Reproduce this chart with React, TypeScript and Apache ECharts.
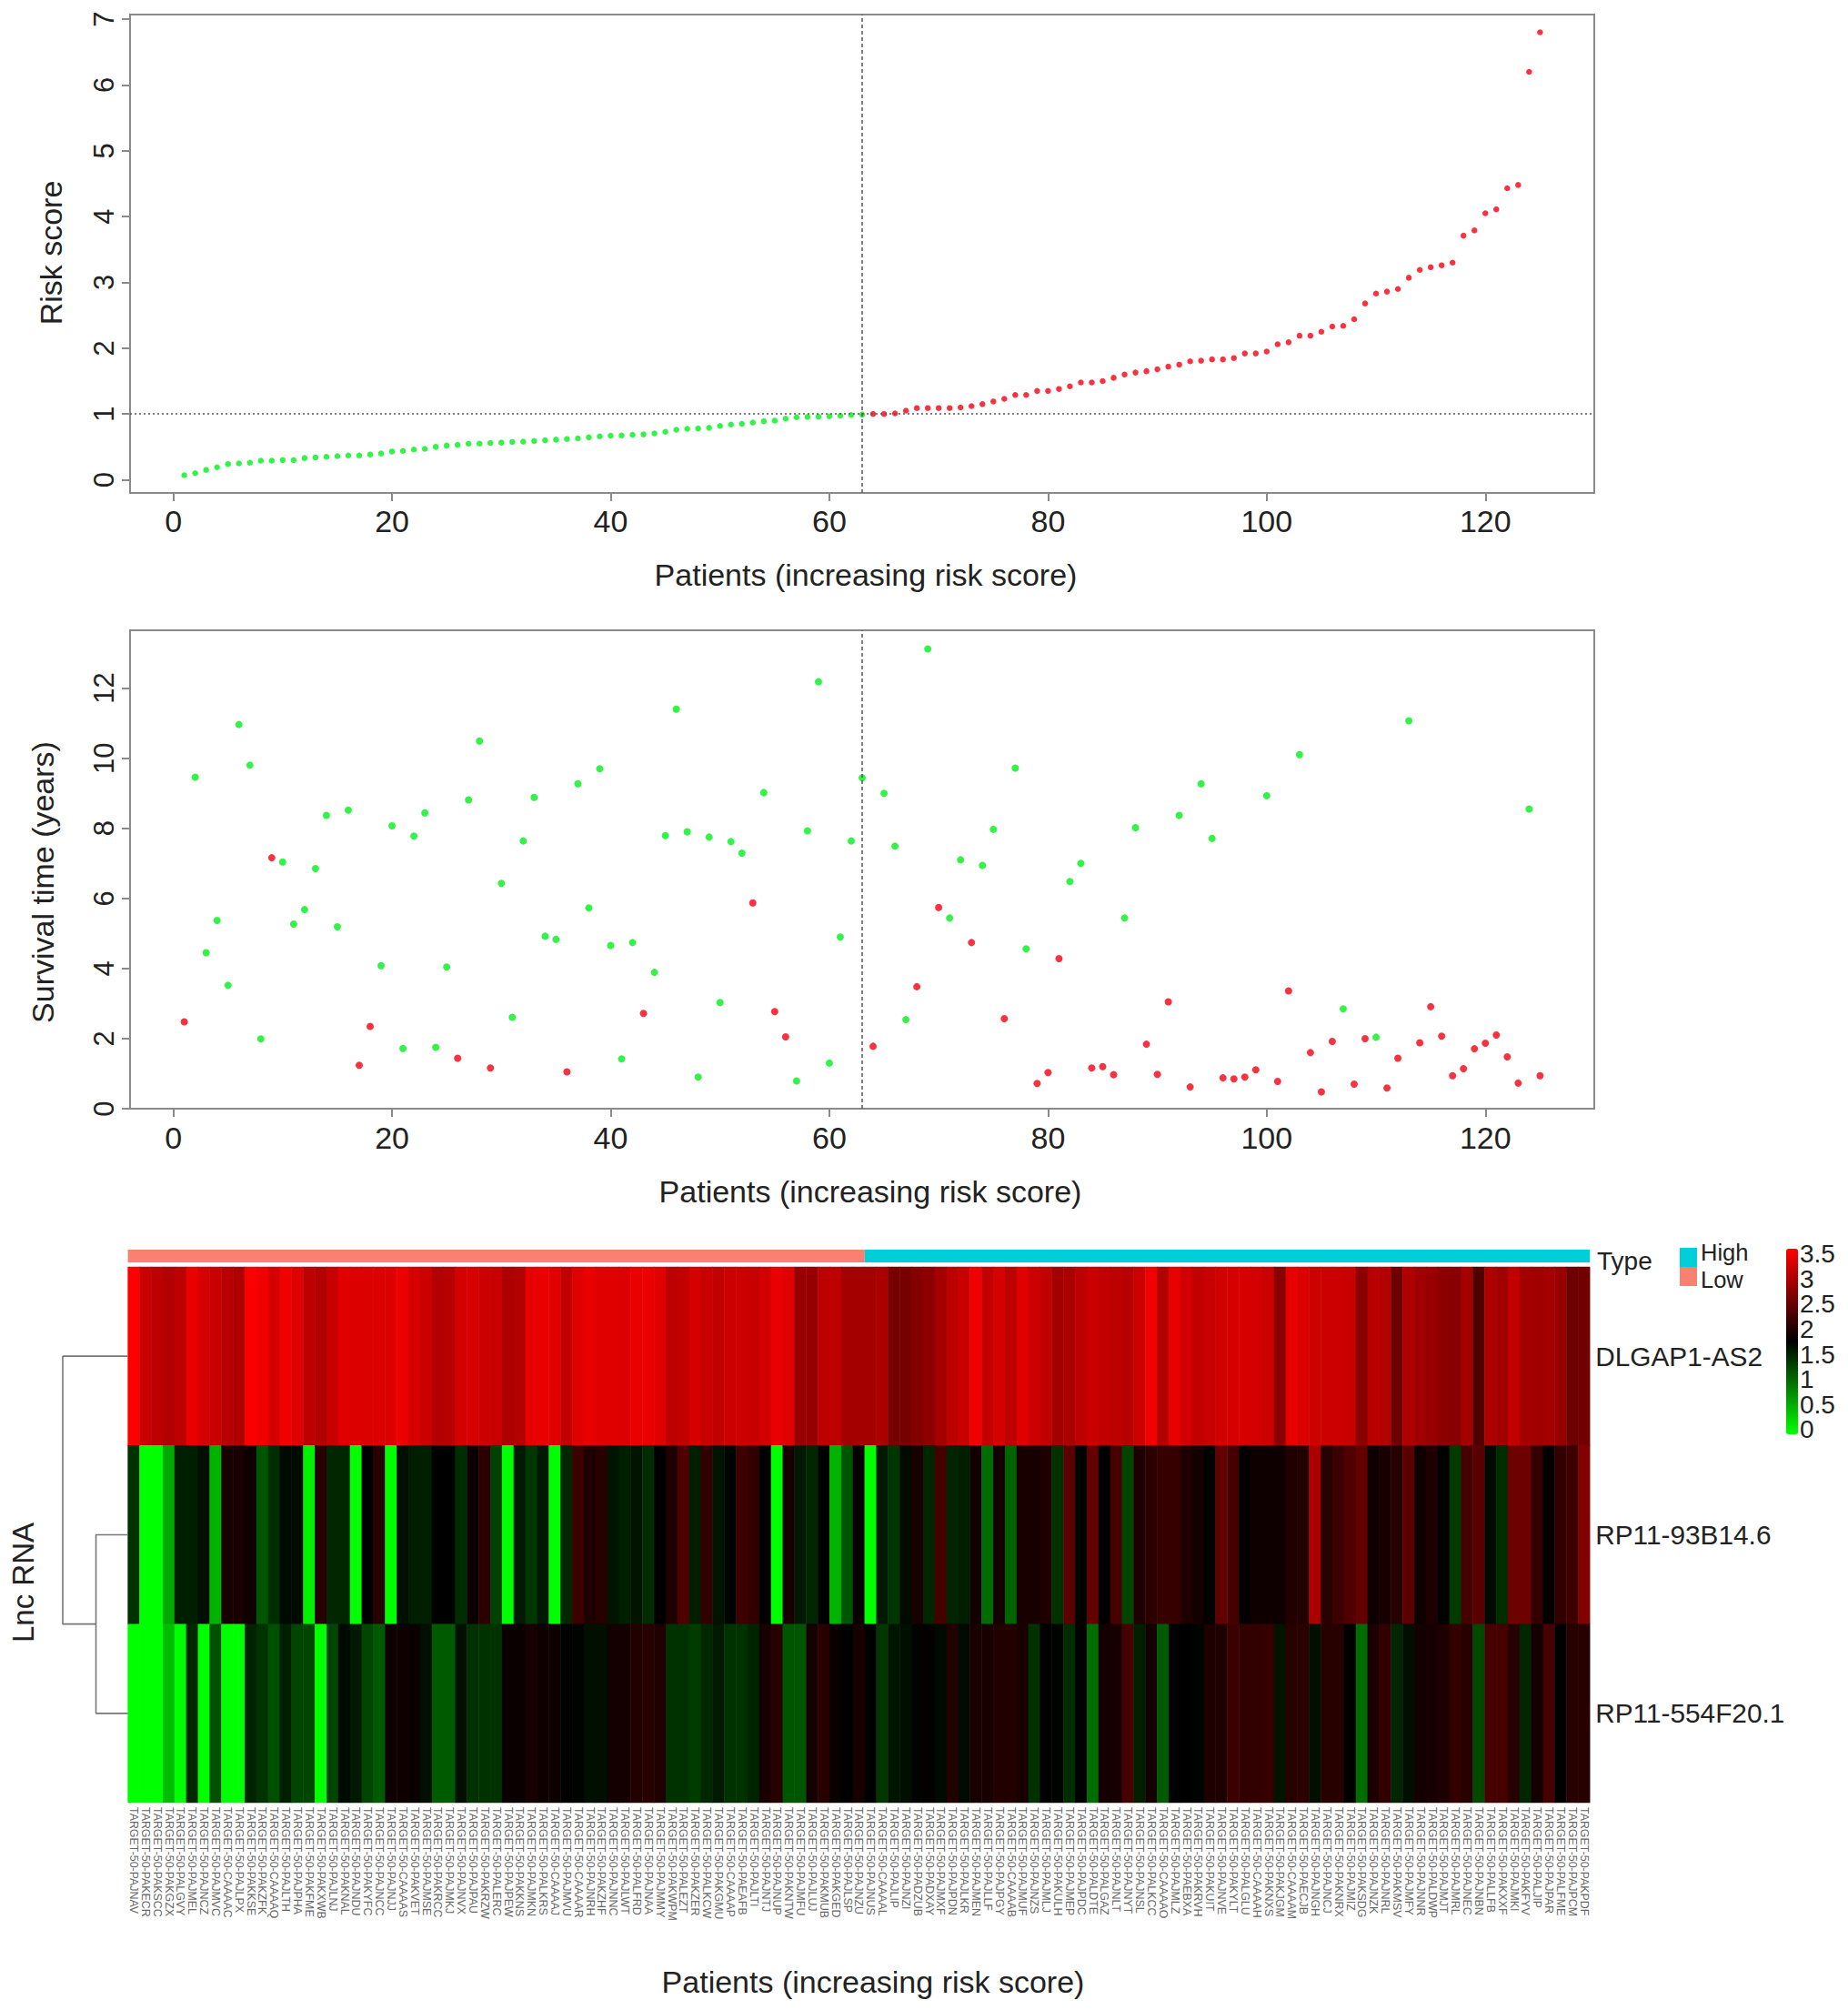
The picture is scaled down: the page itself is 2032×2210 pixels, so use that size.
import React, { useEffect, useRef } from "react";
import * as echarts from "echarts";

const riskScores = [
  0.07,0.1,0.15,0.19,0.24,0.25,0.26,0.29,0.29,0.3,0.3,0.33,0.34,0.35,0.36,0.37,0.37,0.385,0.4,0.43,
  0.44,0.46,0.47,0.5,0.52,0.53,0.55,0.55,0.56,0.565,0.575,0.58,0.59,0.6,0.61,0.62,0.63,0.645,0.66,0.67,
  0.675,0.685,0.69,0.705,0.73,0.76,0.775,0.78,0.79,0.82,0.84,0.85,0.87,0.89,0.9,0.93,0.95,0.955,0.96,0.965,
  0.975,0.985,0.99,1.0,1.0,1.01,1.05,1.09,1.09,1.09,1.09,1.1,1.12,1.15,1.19,1.23,1.29,1.29,1.35,1.35,
  1.38,1.42,1.48,1.48,1.5,1.55,1.6,1.63,1.65,1.68,1.72,1.75,1.8,1.81,1.83,1.83,1.85,1.92,1.92,1.95,
  2.06,2.09,2.19,2.19,2.25,2.33,2.34,2.44,2.68,2.83,2.86,2.9,3.07,3.19,3.23,3.26,3.3,3.71,3.79,4.05,
  4.11,4.43,4.48,6.2,6.8,
];
const survivalYears = [
  2.48,9.46,4.45,5.37,3.52,10.96,9.8,1.99,7.16,7.04,5.27,5.68,6.85,8.37,5.19,8.52,1.24,2.35,4.08,8.07,
  1.72,7.78,8.44,1.75,4.04,1.44,8.81,10.49,1.16,6.43,2.61,7.64,8.88,4.92,4.83,1.05,9.27,5.73,9.7,4.66,
  1.42,4.74,2.72,3.89,7.79,11.4,7.9,0.9,7.75,3.03,7.62,7.29,5.87,9.02,2.77,2.05,0.79,7.93,12.18,1.3,
  4.9,7.64,9.44,1.78,9.0,7.49,2.54,3.48,13.12,5.74,5.44,7.1,4.74,6.94,7.97,2.57,9.72,4.56,0.72,1.03,
  4.28,6.48,7.0,1.16,1.2,0.97,5.44,8.02,1.84,0.98,3.05,8.37,0.62,9.27,7.71,0.88,0.85,0.9,1.11,8.93,
  0.78,3.36,10.1,1.6,0.48,1.92,2.85,0.7,2.0,2.04,0.59,1.44,11.07,1.88,2.91,2.07,0.94,1.14,1.71,1.87,
  2.1,1.48,0.73,8.55,0.94,
];
// 1 = dead (red), 0 = alive (green)
const deadFlags = [
  1,0,0,0,0,0,0,0,1,0,0,0,0,0,0,0,1,1,0,0,
  0,0,0,0,0,1,0,0,1,0,0,0,0,0,0,1,0,0,0,0,
  0,0,1,0,0,0,0,0,0,0,0,0,1,0,1,1,0,0,0,0,
  0,0,0,1,0,0,0,1,0,1,0,0,1,0,0,1,0,0,1,1,
  1,0,0,1,1,1,0,0,1,1,1,0,1,0,0,1,1,1,1,0,
  1,1,0,1,1,1,0,1,1,0,1,1,0,1,1,1,1,1,1,1,
  1,1,1,0,1,
];
const patientIds = [
  "PAJNAV","PAKECR","PAKSCC","PAKGZX","PALGVY","PAJMEL","PAJNCZ","PAJMVC","CAAAAC","PAJLPX","PAKKSE","PAKZFK","CAAAAQ",
  "PAJLTH","PAJPHA","PAKFME","PAKXWB","PAJLNJ","PAKNAL","PAJNDU","PAKYFC","PAJNCC","PAJNJJ","CAAAAS","PAKVET","PAJMSE",
  "PAKRCC","PAJMKJ","PAJNVX","PAJPAU","PAKRZW","PALERC","PAJPEW","PAKKNS","PAJMKN","PALKRS","CAAAAJ","PAJMVU","CAAAAR",
  "PAJNRH","PAKZHF","PAJNNC","PAJLWT","PALFRD","PAJNAA","PAJMMY","PAKWPM","PALEZT","PAKZER","PALKCW","PAKGMU","CAAAAP",
  "PAEAFB","PAJLTI","PAJNTJ","PAJNUP","PAKNTW","PAJMFU","PAJLUJ","PAKMUB","PAKGED","PAJLSP","PAJNZU","PAJNUS","CAAAAL",
  "PAJLIP","PAJNZI","PADZUB","PADXAY","PAJMXF","PAJPDN","PAJLKR","PAJMEN","PAJLLF","PAJPGY","CAAAAB","PAJMUF","PAJNZS",
  "PAJMLJ","PAKULH","PAJMEP","PAJPDC","PALDTE","PALGAZ","PAJNLT","PAJNYT","PAJNSL","PALKCC","CAAAAO","PAJMLZ","PAEBXA",
  "PAKRVH","PAKUIT","PAJNVE","PAKYLT","PALGLU","CAAAAH","PAKNXS","PAKJGM","CAAAAM","PAECJB","PAJNGH","PAJNCJ","PAKNRX",
  "PAJMIZ","PAKSDG","PAJNZK","PAJNRL","PAKMSV","PAJMFY","PAJNNR","PALDWP","PAJMJT","PAJMRL","PAJNEC","PAJNBN","PALLFB",
  "PAKXXF","PAJMKI","PAKFYV","PALJIP","PAJPAR","PALFME","PAJPCM","PAKPDF",
];
const lncRnas = ["DLGAP1-AS2", "RP11-93B14.6", "RP11-554F20.1"];
const dlgap1 = [
  3.5,3.12,3.05,2.98,3.05,3.36,3.22,3.12,3.02,2.95,3.47,3.4,3.22,3.4,3.29,3.05,2.98,3.12,3.29,3.26,3.26,3.26,3.26,3.36,3.22,
  3.16,2.98,3.02,3.22,3.22,3.16,3.12,2.95,2.98,3.33,3.36,3.29,3.09,3.29,3.36,3.29,3.29,3.26,3.36,3.36,3.29,3.05,3.09,3.22,3.12,
  3.09,3.16,3.16,3.12,3.19,3.36,3.29,2.78,2.78,3.05,3.05,2.88,2.88,2.88,2.92,2.57,2.57,2.64,
  2.71,2.88,3.05,3.12,3.4,3.09,3.22,3.05,3.29,3.16,3.09,2.88,2.92,3.05,3.12,3.09,3.05,3.02,3.16,3.4,2.98,3.33,3.19,3.09,3.12,
  3.19,3.22,3.22,3.19,3.16,2.68,3.33,3.26,3.16,3.16,3.16,3.12,2.68,3.02,2.98,2.5,2.95,2.85,2.78,2.71,2.68,2.88,2.3,2.95,2.85,
  3.09,2.88,2.85,2.88,2.78,2.5,2.54,
];
const rp93b = [
  1.41,0,0,0.58,1.54,1.54,1.65,0.52,1.92,1.92,1.85,1.17,1.44,1.68,1.68,0.1,2.02,1.48,1.48,0,1.75,2.02,0,1.65,1.54,
  1.54,1.75,1.75,1.44,1.82,2.06,1.3,0,1.58,1.37,1.58,0,1.48,2.16,1.96,2.02,1.61,1.54,1.61,1.44,1.75,1.96,2.3,1.54,2.09,
  1.61,1.72,2.16,2.09,1.75,0,1.92,1.58,1.48,1.75,0.52,1.17,1.82,0,1.58,1.37,1.68,1.92,
  1.48,2.23,1.51,1.54,1.89,1.0,1.89,1.06,1.92,1.92,1.96,1.41,2.37,1.72,2.44,1.75,2.23,1.27,1.96,2.06,2.13,2.13,1.96,1.89,1.72,
  2.44,2.23,1.78,1.85,1.85,1.85,1.99,1.99,2.92,2.02,2.16,2.3,2.44,1.85,1.92,2.02,2.37,1.85,1.96,1.75,1.34,2.23,2.37,1.68,1.44,
  2.5,2.5,2.09,1.78,2.09,2.16,2.64,
];
const rp554f = [
  0,0,0,0.45,0,1.48,0,1.2,0,0,1.51,1.41,1.2,1.54,1.27,1.27,0,1.27,1.68,1.58,1.27,1.13,1.85,1.85,1.82,
  1.65,1.13,1.13,1.65,1.41,1.41,1.41,1.82,1.82,1.92,1.85,1.85,1.75,1.72,1.65,1.65,1.89,1.89,1.99,2.02,1.96,1.41,1.41,1.34,1.48,
  1.58,1.41,1.41,1.51,1.92,2.02,1.17,1.17,1.89,2.02,1.82,1.75,1.92,1.75,1.37,1.61,1.65,1.72,
  1.78,1.68,1.99,1.68,1.92,1.92,1.99,1.99,1.92,1.41,1.75,1.72,1.44,1.75,1.0,1.89,1.92,2.23,1.54,1.89,1.13,1.72,1.75,1.72,1.96,
  1.96,2.16,2.09,2.09,2.13,1.61,2.02,2.06,1.65,2.02,2.02,1.75,1.0,1.96,2.09,1.48,1.65,1.89,1.92,1.96,2.09,2.02,1.24,2.23,2.23,
  2.02,1.48,1.89,2.23,1.75,2.02,2.02,
];
const expression = [dlgap1, rp93b, rp554f];
const lowRiskCount = 63;
const highRiskCount = 62;
const xTicks = [0, 20, 40, 60, 80, 100, 120];
const riskTicks = [0, 1, 2, 3, 4, 5, 6, 7];
const survivalTicks = [0, 2, 4, 6, 8, 10, 12];
const colorbarTicks = [
  { label: "3.5", y: 1378 }, { label: "3", y: 1406 }, { label: "2.5", y: 1433 }, { label: "2", y: 1461 },
  { label: "1.5", y: 1489 }, { label: "1", y: 1516 }, { label: "0.5", y: 1544 }, { label: "0", y: 1571 },
];
const dendrogramLinks = [
  [[0, 0.5], [1, 0.5], [1, 2], [0.49, 2]],
  [[0, 1.5], [0.49, 1.5], [0.49, 2.5], [0, 2.5]],
];

const FONT = '"Liberation Sans", Arial, Helvetica, sans-serif';
const GREEN = "#00f01c";
const RED = "#f50012";
const BOX = "#8a8a8a";
const TXT = "#222222";
const GUIDE = "#555555";
const LOW_COLOR = "#fa8072";
const HIGH_COLOR = "#00ced8";

function xAxisFor(gridIndex: number, margin: number) {
  return {
    type: "value", gridIndex, min: -3.96, max: 129.96,
    axisLine: { show: false, onZero: false },
    splitLine: { show: false },
    axisTick: { show: true, length: 9, customValues: xTicks, lineStyle: { color: BOX, width: 2 } },
    axisLabel: { customValues: xTicks, fontSize: 34, fontFamily: FONT, color: TXT, margin },
  };
}

function yAxisFor(gridIndex: number, min: number, max: number, ticks: number[]) {
  return {
    type: "value", gridIndex, min, max,
    axisLine: { show: false, onZero: false },
    splitLine: { show: false },
    axisTick: { show: true, length: 9, customValues: ticks, lineStyle: { color: BOX, width: 2 } },
    axisLabel: { customValues: ticks, fontSize: 31, fontFamily: FONT, color: TXT, rotate: 90, margin: 13 },
  };
}

function text(t: string, x: number, y: number, fontSize: number, extra: any = {}) {
  return {
    type: "text", x, y, rotation: extra.rotation || 0, silent: true,
    style: {
      text: t, fontSize, fontFamily: FONT, fill: TXT,
      textAlign: extra.align || "center", textVerticalAlign: "middle",
    },
  };
}

function buildOption() {
  const xs = riskScores.map((_, i) => i + 1);
  const heat: number[][] = [];
  expression.forEach((row, r) => row.forEach((v, c) => heat.push([c, r, v])));
  const fullIds = patientIds.map((p) => `TARGET-50-${p}`);
  const UP = Math.PI / 2;

  return {
    animation: false,
    backgroundColor: "#ffffff",
    textStyle: { fontFamily: FONT },
    grid: [
      { left: 143, top: 16, width: 1610, height: 526, show: true, borderColor: BOX, borderWidth: 2, containLabel: false },
      { left: 143, top: 693, width: 1610, height: 526, show: true, borderColor: BOX, borderWidth: 2, containLabel: false },
      { left: 140.6, top: 1393, width: 1607.6, height: 589, containLabel: false },
      { left: 140.6, top: 1374, width: 1607.6, height: 14, containLabel: false },
      { left: 69, top: 1393, width: 71.6, height: 589, containLabel: false },
    ],
    xAxis: [
      xAxisFor(0, 14),
      xAxisFor(1, 15),
      {
        type: "category", gridIndex: 2, data: fullIds, axisLine: { show: false }, axisTick: { show: false },
        axisLabel: { interval: 0, rotate: -90, fontSize: 12.4, fontFamily: FONT, color: "#666666", margin: 5 },
      },
      { type: "value", gridIndex: 3, min: 0, max: lowRiskCount + highRiskCount, show: false },
      { type: "value", gridIndex: 4, min: 0, max: 1, inverse: true, show: false },
    ],
    yAxis: [
      yAxisFor(0, -0.2, 7.07, riskTicks),
      yAxisFor(1, 0, 13.65, survivalTicks),
      {
        type: "category", gridIndex: 2, data: lncRnas, inverse: true, position: "right",
        axisLine: { show: false }, axisTick: { show: false },
        axisLabel: { fontSize: 29.8, fontFamily: FONT, color: TXT, margin: 6 },
      },
      { type: "category", gridIndex: 3, data: ["Type"], show: false },
      { type: "value", gridIndex: 4, min: 0, max: 3, inverse: true, show: false },
    ],
    visualMap: {
      show: true, type: "continuous", seriesIndex: 4, min: 0, max: 3.5, calculable: false,
      left: 1964, top: 1373, itemWidth: 13, itemHeight: 204, padding: 0, orient: "vertical",
      inRange: { color: ["#00ff00", "#000000", "#ff0000"] },
      hoverLink: false,
    },
    series: [
      {
        name: "Low risk", type: "scatter", xAxisIndex: 0, yAxisIndex: 0, symbolSize: 6.5, silent: true,
        itemStyle: { color: GREEN },
        data: xs.slice(0, lowRiskCount).map((x) => [x, riskScores[x - 1]]),
        markLine: {
          silent: true, symbol: "none", label: { show: false }, animation: false,
          data: [
            { xAxis: lowRiskCount, lineStyle: { type: [4, 3], color: GUIDE, width: 1.5 } },
            { yAxis: 1, lineStyle: { type: [2, 3], color: GUIDE, width: 1.5 } },
          ],
        },
      },
      {
        name: "High risk", type: "scatter", xAxisIndex: 0, yAxisIndex: 0, symbolSize: 6.5, silent: true,
        itemStyle: { color: RED },
        data: xs.slice(lowRiskCount).map((x) => [x, riskScores[x - 1]]),
      },
      {
        name: "Alive", type: "scatter", xAxisIndex: 1, yAxisIndex: 1, symbolSize: 8, silent: true,
        itemStyle: { color: GREEN },
        data: xs.filter((x) => !deadFlags[x - 1]).map((x) => [x, survivalYears[x - 1]]),
        markLine: {
          silent: true, symbol: "none", label: { show: false }, animation: false,
          data: [{ xAxis: lowRiskCount, lineStyle: { type: [4, 3], color: GUIDE, width: 1.5 } }],
        },
      },
      {
        name: "Dead", type: "scatter", xAxisIndex: 1, yAxisIndex: 1, symbolSize: 8, silent: true,
        itemStyle: { color: RED },
        data: xs.filter((x) => deadFlags[x - 1]).map((x) => [x, survivalYears[x - 1]]),
      },
      {
        name: "Expression", type: "heatmap", xAxisIndex: 2, yAxisIndex: 2, data: heat, silent: true,
        progressive: 0, itemStyle: { borderWidth: 0 },
      },
      {
        name: "Low", type: "bar", xAxisIndex: 3, yAxisIndex: 3, silent: true, stack: "type", barWidth: "100%",
        itemStyle: { color: LOW_COLOR }, data: [lowRiskCount],
      },
      {
        name: "High", type: "bar", xAxisIndex: 3, yAxisIndex: 3, silent: true, stack: "type", barWidth: "100%",
        itemStyle: { color: HIGH_COLOR }, data: [highRiskCount],
      },
      ...dendrogramLinks.map((link, i) => ({
        name: `Dendrogram ${i + 1}`, type: "line", xAxisIndex: 4, yAxisIndex: 4, data: link, silent: true,
        symbol: "none", showSymbol: false, lineStyle: { color: "#777777", width: 1.6 },
      })),
    ],
    graphic: [
      text("Risk score", 56, 278, 34, { rotation: UP }),
      text("Survival time (years)", 47, 970, 34, { rotation: UP }),
      text("Patients (increasing risk score)", 952, 632, 34),
      text("Patients (increasing risk score)", 957, 1310, 34),
      text("Patients (increasing risk score)", 960, 2179, 34),
      text("Lnc RNA", 25, 1740, 33, { rotation: UP }),
      text("Type", 1756, 1386, 28, { align: "left" }),
      { type: "rect", silent: true, shape: { x: 1847, y: 1372, width: 19, height: 21 }, style: { fill: HIGH_COLOR } },
      { type: "rect", silent: true, shape: { x: 1847, y: 1393, width: 19, height: 21 }, style: { fill: LOW_COLOR } },
      text("High", 1870, 1377, 25.5, { align: "left" }),
      text("Low", 1870, 1407, 25.5, { align: "left" }),
      ...colorbarTicks.map((t) => text(t.label, 1979, t.y, 28, { align: "left" })),
    ],
  };
}

export default function App() {
  const ref = useRef<HTMLDivElement>(null);
  useEffect(() => {
    document.body.style.margin = "0";
    const chart = echarts.init(ref.current as HTMLDivElement, undefined, { renderer: "svg" });
    chart.setOption(buildOption() as any);
    return () => chart.dispose();
  }, []);
  return <div ref={ref} style={{ position: "absolute", left: 0, top: 0, width: 2032, height: 2210 }} />;
}
